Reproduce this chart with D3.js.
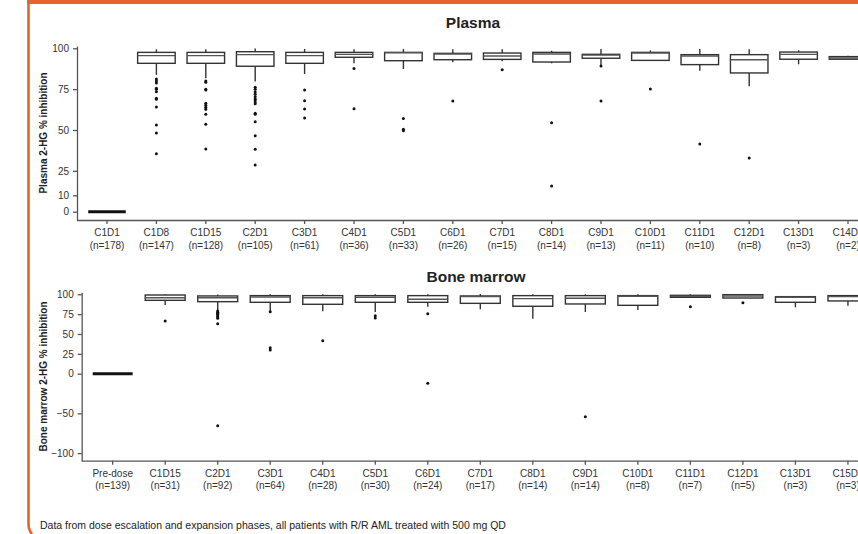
<!DOCTYPE html>
<html>
<head>
<meta charset="utf-8">
<script src="https://cdn.jsdelivr.net/npm/d3@7"></script>
<style>
  body { margin: 0; background: #fff; }
  svg { display: block; font-family: Arial, "Liberation Sans", sans-serif; }
  .axis path, .axis line { stroke: #555; stroke-width: 1.3; }
  .axis text { fill: #333; font-size: 10px; }
</style>
</head>
<body>
<div id="chart"></div>
<script>
// Plasma panel
var plasmaVisits = ["C1D1", "C1D8", "C1D15", "C2D1", "C3D1", "C4D1", "C5D1", "C6D1",
                    "C7D1", "C8D1", "C9D1", "C10D1", "C11D1", "C12D1", "C13D1", "C14D1"];
var plasmaN      = [178, 147, 128, 105, 61, 36, 33, 26, 15, 14, 13, 11, 10, 8, 3, 2];
var plasmaLow    = [0, 83.7, 81.6, 79.6, 84.3, 90.8, 87.3, 91.4, 92.0, 90.8, 88.7, 92.6, 86.3, 76.7, 90.2, 93.0];
var plasmaQ1     = [0, 90.8, 90.8, 89.0, 90.8, 94.5, 92.4, 93.0, 93.2, 91.6, 93.9, 92.6, 90.0, 84.9, 93.3, 93.3];
var plasmaMedian = [0, 95.5, 95.5, 96.1, 95.5, 96.3, 97.3, 96.5, 95.3, 96.5, 95.8, 97.1, 95.3, 93.0, 96.3, 94.1];
var plasmaQ3     = [0, 97.5, 97.5, 97.9, 97.5, 97.5, 97.5, 96.9, 97.1, 97.5, 96.3, 97.5, 96.1, 96.1, 97.7, 94.9];
var plasmaHigh   = [0, 99.4, 99.4, 99.8, 99.6, 99.4, 99.6, 99.4, 99.4, 98.5, 99.6, 98.7, 99.6, 99.4, 98.8, 95.5];
var plasmaOutliers = [
  [],
  [81.2, 80.0, 78.8, 75.5, 74.9, 73.4, 69.4, 68.8, 64.1, 53.1, 48.2, 35.5],
  [80.0, 79.2, 74.9, 74.5, 66.3, 65.1, 63.9, 62.7, 59.6, 53.5, 38.4],
  [76.1, 74.9, 73.3, 71.8, 70.4, 69.0, 68.4, 67.1, 66.1, 60.2, 59.6, 55.1, 46.5, 38.2, 28.6],
  [74.5, 67.9, 62.9, 57.3],
  [87.7, 63.0],
  [57.1, 50.4, 49.6],
  [67.7],
  [86.9],
  [54.5, 15.7],
  [89.2, 67.7],
  [75.1],
  [41.4],
  [32.9],
  [],
  []
];
var plasmaTicks = [0, 10, 25, 50, 75, 100];

// Bone marrow panel
var marrowVisits = ["Pre-dose", "C1D15", "C2D1", "C3D1", "C4D1", "C5D1", "C6D1", "C7D1",
                    "C8D1", "C9D1", "C10D1", "C11D1", "C12D1", "C13D1", "C15D1"];
var marrowN      = [139, 31, 92, 64, 28, 30, 24, 17, 14, 14, 8, 7, 5, 3, 3];
var marrowLow    = [0, 86.5, 79.8, 78.0, 78.6, 77.7, 84.4, 81.0, 69.3, 77.7, 80.2, 96.2, 95.3, 83.6, 85.6];
var marrowQ1     = [0, 92.4, 90.7, 89.9, 87.4, 89.9, 89.9, 88.6, 84.9, 87.8, 86.1, 96.2, 95.3, 89.9, 91.6];
var marrowMedian = [0, 95.7, 95.7, 96.6, 95.7, 96.2, 93.7, 97.0, 94.5, 95.0, 97.5, 97.5, 97.9, 96.2, 97.0];
var marrowQ3     = [0, 99.1, 97.9, 98.3, 98.3, 98.3, 98.3, 97.9, 98.3, 98.3, 98.3, 98.7, 99.5, 97.0, 98.3];
var marrowHigh   = [0, 100, 99.8, 100, 100, 100, 100, 100.5, 100, 100, 100, 100, 100.3, 97.0, 98.3];
var marrowOutliers = [
  [],
  [66.4],
  [79.0, 77.5, 76.0, 74.5, 73.0, 71.5, 69.8, 63.0, -65.5],
  [78.0, 32.7, 29.8],
  [41.6],
  [73.0, 70.2],
  [75.6, -12.1],
  [],
  [],
  [-54.1],
  [],
  [84.4],
  [89.4],
  [],
  []
];
var marrowTicks = [-100, -50, 0, 25, 50, 75, 100];

var width = 858, height = 534;

var svg = d3.select("#chart").append("svg")
    .attr("width", width)
    .attr("height", height);

// Orange frame (top bar and left edge with rounded corner)
svg.append("rect")
    .attr("x", 27).attr("y", 0)
    .attr("width", width - 27).attr("height", 4)
    .attr("fill", "#e8632b");
svg.append("path")
    .attr("d", "M28.5,0 L28.5,524 Q28.5,530 32,534")
    .attr("fill", "none")
    .attr("stroke", "#e8632b")
    .attr("stroke-width", 2.6);

function drawPanel(opts) {
    var n = opts.visits.length;
    var x = d3.scaleBand()
        .domain(opts.visits)
        .range([opts.x0, opts.x0 + n * opts.step])
        .padding(0);
    var y = d3.scaleLinear()
        .domain(opts.yDomain)
        .range([opts.yBottom, opts.yTop]);

    var g = svg.append("g");
    var boxW = opts.step * opts.boxFrac;

    // x axis
    var xAxis = g.append("g")
        .attr("class", "x axis")
        .attr("transform", "translate(0," + opts.yBottom + ")")
        .call(d3.axisBottom(x).tickSizeOuter(0).tickSize(4).tickPadding(5));
    xAxis.select(".domain")
        .attr("d", "M" + opts.axisX + ",0.5H" + (opts.x0 + n * opts.step));
    xAxis.selectAll(".tick text")
        .text(null)
        .each(function(d, i) {
            var t = d3.select(this);
            t.append("tspan").attr("x", 0).attr("dy", "0.71em").text(d);
            t.append("tspan").attr("x", 0).attr("dy", "1.25em").text("(n=" + opts.n[i] + ")");
        });

    // y axis
    g.append("g")
        .attr("class", "y axis")
        .attr("transform", "translate(" + opts.axisX + ",0)")
        .call(d3.axisLeft(y).tickValues(opts.ticks).tickSize(4).tickSizeOuter(0).tickPadding(4));

    // y title
    g.append("text")
        .attr("transform", "translate(" + opts.titleX + "," + ((opts.yTop + opts.yBottom) / 2) + ") rotate(-90)")
        .attr("text-anchor", "middle")
        .attr("font-size", "10px")
        .attr("font-weight", "bold")
        .attr("fill", "#222")
        .text(opts.yTitle);

    // panel title
    g.append("text")
        .attr("x", opts.headX)
        .attr("y", opts.headY)
        .attr("text-anchor", "middle")
        .attr("font-size", "15.5px")
        .attr("font-weight", "bold")
        .attr("fill", "#222")
        .text(opts.head);

    var boxes = g.selectAll(".box")
        .data(opts.visits.map(function(v, i) {
            return {visit: v, low: opts.low[i], q1: opts.q1[i], med: opts.median[i],
                    q3: opts.q3[i], high: opts.high[i], out: opts.outliers[i]};
        }))
        .enter().append("g")
        .attr("class", "box")
        .attr("transform", function(d) { return "translate(" + (x(d.visit) + x.bandwidth() / 2) + ",0)"; });

    // whiskers
    boxes.append("line")
        .attr("x1", 0).attr("x2", 0)
        .attr("y1", function(d) { return y(d.high); })
        .attr("y2", function(d) { return y(d.q3); })
        .attr("stroke", "#333").attr("stroke-width", 1.4);
    boxes.append("line")
        .attr("x1", 0).attr("x2", 0)
        .attr("y1", function(d) { return y(d.q1); })
        .attr("y2", function(d) { return y(d.low); })
        .attr("stroke", "#333").attr("stroke-width", 1.4);

    boxes.each(function(d) {
        var b = d3.select(this);
        if (d.q3 - d.q1 === 0) {
            b.append("line")
                .attr("x1", -boxW / 2).attr("x2", boxW / 2)
                .attr("y1", y(d.med)).attr("y2", y(d.med))
                .attr("stroke", "#111").attr("stroke-width", 3);
            return;
        }
        b.append("rect")
            .attr("x", -boxW / 2)
            .attr("width", boxW)
            .attr("y", y(d.q3))
            .attr("height", y(d.q1) - y(d.q3))
            .attr("fill", "#fff")
            .attr("stroke", "#333")
            .attr("stroke-width", 1.4);
        b.append("line")
            .attr("x1", -boxW / 2).attr("x2", boxW / 2)
            .attr("y1", y(d.med)).attr("y2", y(d.med))
            .attr("stroke", "#555").attr("stroke-width", 1.4);
    });

    // outliers
    boxes.selectAll(".out")
        .data(function(d) { return d.out; })
        .enter().append("circle")
        .attr("class", "out")
        .attr("cx", 0)
        .attr("cy", function(v) { return y(v); })
        .attr("r", 1.5)
        .attr("fill", "#111");
}

drawPanel({
    visits: plasmaVisits, n: plasmaN,
    low: plasmaLow, q1: plasmaQ1, median: plasmaMedian, q3: plasmaQ3, high: plasmaHigh,
    outliers: plasmaOutliers, ticks: plasmaTicks,
    x0: 82.3, step: 49.4, boxFrac: 0.76, axisX: 77,
    yDomain: [-5.1, 101.4], yBottom: 220, yTop: 46,
    titleX: 47, yTitle: "Plasma 2-HG % inhibition",
    head: "Plasma", headX: 473, headY: 28
});

drawPanel({
    visits: marrowVisits, n: marrowN,
    low: marrowLow, q1: marrowQ1, median: marrowMedian, q3: marrowQ3, high: marrowHigh,
    outliers: marrowOutliers, ticks: marrowTicks,
    x0: 86.4, step: 52.52, boxFrac: 0.76, axisX: 81.7,
    yDomain: [-109.6, 102.5], yBottom: 460.7, yTop: 292.3,
    titleX: 47, yTitle: "Bone marrow 2-HG % inhibition",
    head: "Bone marrow", headX: 476, headY: 282
});

// footnote
svg.append("text")
    .attr("x", 40)
    .attr("y", 529)
    .attr("font-size", "10.5px")
    .attr("fill", "#222")
    .text("Data from dose escalation and expansion phases, all patients with R/R AML treated with 500 mg QD");
</script>
</body>
</html>
